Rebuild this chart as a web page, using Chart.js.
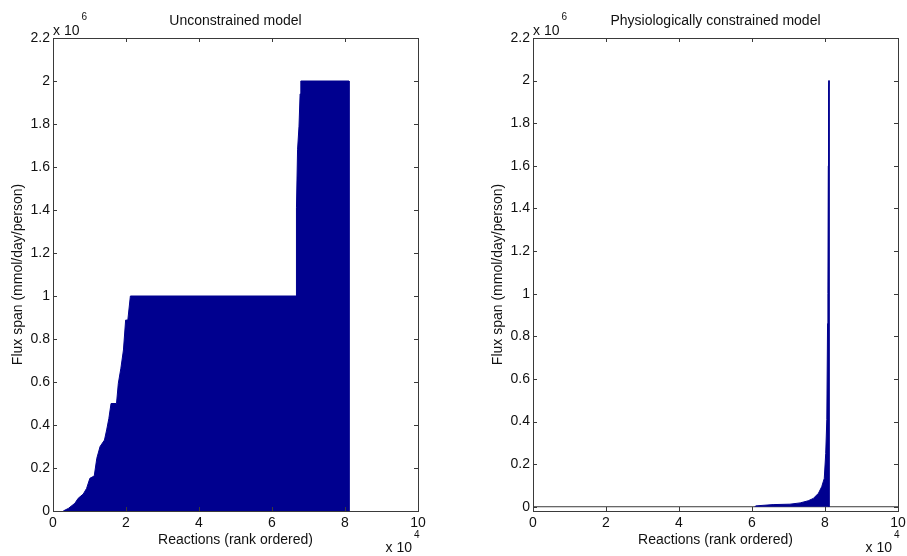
<!DOCTYPE html>
<html>
<head>
<meta charset="utf-8">
<script src="https://cdn.jsdelivr.net/npm/chart.js@4"></script>
<style>
  body { margin: 0; background: #fff; }
  .box { position: absolute; top: 0; height: 556px; }
</style>
</head>
<body>
<div class="box" style="left:0;width:453px"><canvas id="chartLeft"></canvas></div>
<div class="box" style="left:480px;width:427px"><canvas id="chartRight"></canvas></div>
<script>
// axis ticks (x in units of 10^4, y in units of 10^6)
var xTicks = [0, 2, 4, 6, 8, 10];
var yTicks = [0, 0.2, 0.4, 0.6, 0.8, 1, 1.2, 1.4, 1.6, 1.8, 2, 2.2];

// Unconstrained model: flux span vs rank
var unconX = [0.28, 0.42, 0.60, 0.69, 0.83, 0.92, 1.01, 1.13, 1.20, 1.29, 1.41, 1.47, 1.53, 1.59, 1.74, 1.79, 1.86, 1.93, 1.99, 2.05, 2.12, 6.66, 6.66, 6.68, 6.70, 6.74, 6.77, 6.79, 8.11, 8.11];
var unconY = [0, 0.012, 0.036, 0.059, 0.079, 0.105, 0.152, 0.163, 0.245, 0.30, 0.33, 0.377, 0.43, 0.50, 0.50, 0.594, 0.664, 0.749, 0.888, 0.888, 1.0, 1.0, 1.2, 1.41, 1.68, 1.79, 1.94, 2.0, 2.0, 0];

// Physiologically constrained model
var physX = [6.08, 6.10, 6.58, 7.04, 7.32, 7.54, 7.68, 7.82, 7.91, 7.98, 8.02, 8.05, 8.07, 8.08, 8.09, 8.10, 8.11, 8.11];
var physY = [0, 0.004, 0.01, 0.012, 0.018, 0.028, 0.039, 0.063, 0.094, 0.133, 0.25, 0.41, 0.86, 1.0, 1.6, 1.97, 2.0, 0];

var baseX = [0, 10];
var baseY = [0, 0];

var navy = '#00008f';
var axisColor = '#3a3a3a';
var font = 'Liberation Sans, Arial, sans-serif';

function pts(xs, ys) {
  return xs.map(function (x, i) { return { x: x, y: ys[i] }; });
}

// box, inward ticks and the "x 10^n" exponent labels like matlab
var matlabAxes = {
  id: 'matlabAxes',
  afterDraw: function (chart) {
    var ctx = chart.ctx, a = chart.chartArea;
    var xs = chart.scales.x, ys = chart.scales.y;
    ctx.save();
    ctx.strokeStyle = axisColor;
    ctx.lineWidth = 1;
    ctx.strokeRect(Math.round(a.left) + 0.5, Math.round(a.top) + 0.5, Math.round(a.right - a.left), Math.round(a.bottom - a.top));
    ctx.beginPath();
    xTicks.forEach(function (v) {
      var p = Math.round(xs.getPixelForValue(v)) + 0.5;
      ctx.moveTo(p, a.bottom); ctx.lineTo(p, a.bottom - 4);
      ctx.moveTo(p, a.top); ctx.lineTo(p, a.top + 4);
    });
    yTicks.forEach(function (v) {
      var p = Math.round(ys.getPixelForValue(v)) + 0.5;
      ctx.moveTo(a.left, p); ctx.lineTo(a.left + 4, p);
      ctx.moveTo(a.right, p); ctx.lineTo(a.right - 4, p);
    });
    ctx.stroke();

    ctx.fillStyle = '#111';
    ctx.textBaseline = 'alphabetic';
    ctx.textAlign = 'left';
    ctx.font = '14px ' + font;
    ctx.fillText('x 10', a.left, a.top - 3);
    var w = ctx.measureText('x 10').width;
    ctx.font = '10px ' + font;
    ctx.fillText('6', a.left + w + 2, a.top - 18);

    ctx.font = '14px ' + font;
    ctx.textAlign = 'right';
    ctx.fillText('x 10', a.right - 6, a.bottom + 41);
    ctx.font = '10px ' + font;
    ctx.textAlign = 'left';
    ctx.fillText('4', a.right - 4, a.bottom + 27);
    ctx.restore();
  }
};

function makeChart(id, title, xs, ys, yMin, padRight, withBase) {
  var datasets = [{
    data: pts(xs, ys),
    fill: 'origin',
    backgroundColor: navy,
    borderColor: navy,
    borderWidth: 1,
    pointRadius: 0,
    tension: 0
  }];
  if (withBase) {
    datasets.push({
      data: pts(baseX, baseY),
      fill: false,
      borderColor: axisColor,
      borderWidth: 1,
      pointRadius: 0
    });
  }
  return new Chart(document.getElementById(id), {
    type: 'line',
    data: { datasets: datasets },
    options: {
      responsive: true,
      maintainAspectRatio: false,
      animation: false,
      layout: { padding: { top: 0, right: padRight, bottom: 0, left: 0 } },
      plugins: {
        legend: { display: false },
        tooltip: { enabled: false },
        title: {
          display: true,
          text: title,
          fullSize: false,
          color: '#111',
          font: { family: font, size: 14, weight: 'normal' },
          padding: { top: 13, bottom: 8.2 }
        }
      },
      scales: {
        x: {
          type: 'linear',
          min: 0,
          max: 10,
          grid: { display: false, drawTicks: false },
          border: { display: false },
          afterFit: function (s) { s.height = 45; s.paddingLeft = 0; s.paddingRight = 0; },
          afterBuildTicks: function (s) { s.ticks = xTicks.map(function (v) { return { value: v }; }); },
          ticks: {
            color: '#111',
            padding: 4,
            maxRotation: 0,
            font: { family: font, size: 14 },
            callback: function (v) { return String(v); }
          },
          title: {
            display: true,
            text: 'Reactions (rank ordered)',
            color: '#111',
            font: { family: font, size: 14 },
            padding: { top: 0, bottom: 7.6 }
          }
        },
        y: {
          type: 'linear',
          min: yMin,
          max: 2.2,
          grid: { display: false, drawTicks: false },
          border: { display: false },
          afterFit: function (s) { s.width = 53; s.paddingTop = 0; s.paddingBottom = 0; },
          afterBuildTicks: function (s) { s.ticks = yTicks.map(function (v) { return { value: v }; }); },
          ticks: {
            color: '#111',
            padding: 3,
            font: { family: font, size: 14 },
            callback: function (v) { return String(+v.toFixed(1)); }
          },
          title: {
            display: true,
            text: 'Flux span (mmol/day/person)',
            color: '#111',
            font: { family: font, size: 14 },
            padding: { top: 10, bottom: 0 }
          }
        }
      }
    },
    plugins: [matlabAxes]
  });
}

makeChart('chartLeft', 'Unconstrained model', unconX, unconY, 0, 35, false);
makeChart('chartRight', 'Physiologically constrained model', physX, physY, -0.02, 9, true);
</script>
</body>
</html>
